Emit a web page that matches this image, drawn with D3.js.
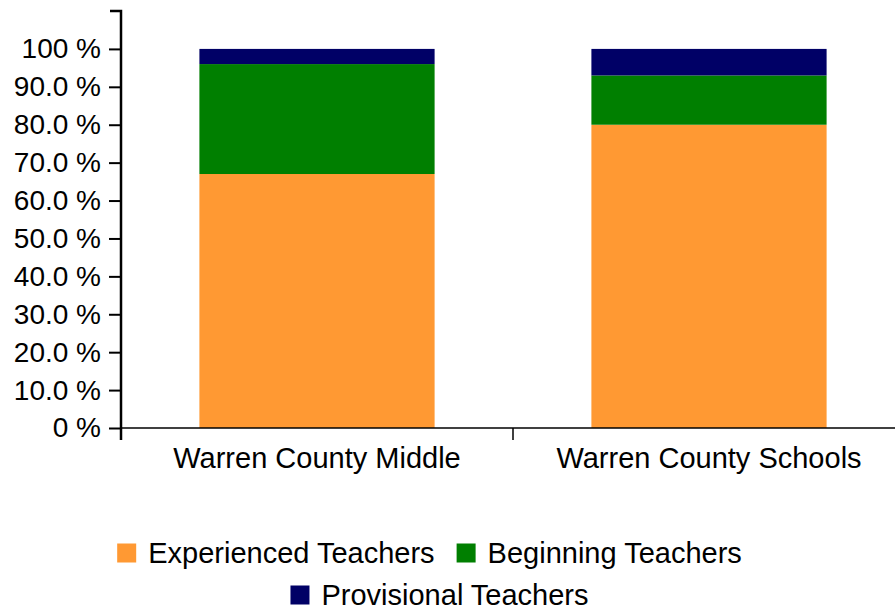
<!DOCTYPE html>
<html>
<head>
<meta charset="utf-8">
<script src="https://cdn.jsdelivr.net/npm/d3@7"></script>
<style>
  body { margin: 0; background: #fff; }
  text { font-family: "Liberation Sans", Arial, sans-serif; fill: #000; }
</style>
</head>
<body>
<div id="chart"></div>
<script>
const categories = ["Warren County Middle", "Warren County Schools"];
const seriesNames = ["Experienced Teachers", "Beginning Teachers", "Provisional Teachers"];
const seriesColors = ["#ff9933", "#007f00", "#000066"];
const experienced = [67, 80];
const beginning = [29, 13];
const provisional = [4, 7];
const yTicks = [0, 10, 20, 30, 40, 50, 60, 70, 80, 90, 100];

const width = 895;
const height = 611;

const svg = d3.select("#chart")
  .append("svg")
  .attr("width", width)
  .attr("height", height)
  .attr("viewBox", `0 0 ${width} ${height}`);

const rows = categories.map((c, i) => ({
  category: c,
  "Experienced Teachers": experienced[i],
  "Beginning Teachers": beginning[i],
  "Provisional Teachers": provisional[i]
}));

const stacked = d3.stack().keys(seriesNames)(rows);

const x = d3.scaleBand()
  .domain(categories)
  .range([121, 905])
  .paddingInner(0.4)
  .paddingOuter(0.2);

const y = d3.scaleLinear()
  .domain([0, 110])
  .range([428, 11]);

const color = d3.scaleOrdinal().domain(seriesNames).range(seriesColors);

// bars
svg.append("g")
  .selectAll("g")
  .data(stacked)
  .join("g")
  .attr("fill", d => color(d.key))
  .selectAll("rect")
  .data(d => d)
  .join("rect")
  .attr("x", d => x(d.data.category))
  .attr("y", d => y(d[1]))
  .attr("width", x.bandwidth())
  .attr("height", d => y(d[0]) - y(d[1]));

// y axis
const yAxis = d3.axisLeft(y)
  .tickValues(yTicks)
  .tickSize(12)
  .tickSizeOuter(0)
  .tickPadding(8)
  .tickFormat(d => d === 0 ? "0 %" : d === 100 ? "100 %" : d.toFixed(1) + " %");

const yg = svg.append("g")
  .attr("transform", "translate(121,0)")
  .call(yAxis);
yg.select(".domain").remove();
yg.selectAll(".tick line").attr("stroke", "#000").attr("stroke-width", 2);
yg.selectAll(".tick text")
  .attr("font-size", "28px")
  .attr("font-family", "Liberation Sans, Arial, sans-serif")
  .attr("fill", "#000");

// y axis line with top cap, extends below x axis
svg.append("path")
  .attr("d", `M110,${y(110)}H121V440`)
  .attr("fill", "none")
  .attr("stroke", "#000")
  .attr("stroke-width", 2.5);

// x axis
const xBoundaries = [x.range()[0], x.range()[0] + x.step(), x.range()[1]];
svg.append("line")
  .attr("x1", x.range()[0])
  .attr("x2", x.range()[1])
  .attr("y1", y(0))
  .attr("y2", y(0))
  .attr("stroke", "#000")
  .attr("stroke-width", 1.5);

svg.append("g")
  .selectAll("line")
  .data(xBoundaries.slice(1))
  .join("line")
  .attr("x1", d => d)
  .attr("x2", d => d)
  .attr("y1", y(0))
  .attr("y2", 440)
  .attr("stroke", "#000")
  .attr("stroke-width", 1.5);

svg.append("g")
  .selectAll("text")
  .data(categories)
  .join("text")
  .attr("x", d => x(d) + x.bandwidth() / 2)
  .attr("y", 468)
  .attr("text-anchor", "middle")
  .attr("font-size", "29px")
  .text(d => d);

// legend
const legendRows = [seriesNames.slice(0, 2), seriesNames.slice(2)];
const legendRowY = [553, 595];
const legendRowShift = [-18, -8];
const box = 19;
const boxGap = 12;
const itemGap = 22;
const legendFont = 29;

legendRows.forEach((items, r) => {
  const g = svg.append("g");
  let cx = 0;
  items.forEach(name => {
    const item = g.append("g").attr("transform", `translate(${cx},0)`);
    item.append("rect")
      .attr("x", 0)
      .attr("y", legendRowY[r] - box / 2)
      .attr("width", box)
      .attr("height", box)
      .attr("fill", color(name));
    const t = item.append("text")
      .attr("x", box + boxGap)
      .attr("y", legendRowY[r])
      .attr("dy", "0.35em")
      .attr("font-size", legendFont + "px")
      .text(name);
    cx += box + boxGap + t.node().getComputedTextLength() + itemGap;
  });
  const total = cx - itemGap;
  g.attr("transform", `translate(${(width - total) / 2 + legendRowShift[r]},0)`);
});
</script>
</body>
</html>
